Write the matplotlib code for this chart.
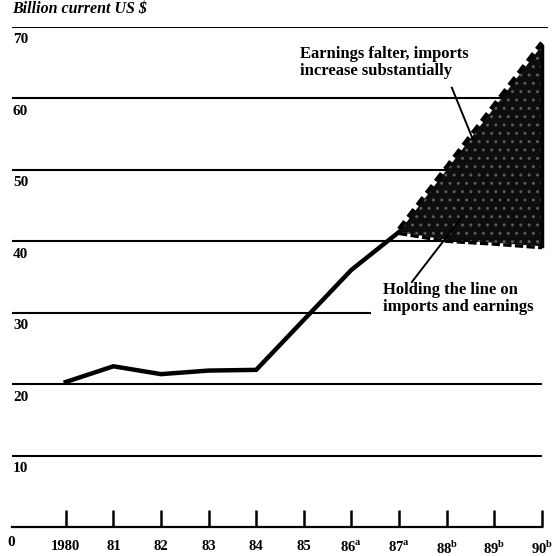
import numpy as np
import matplotlib
matplotlib.use("Agg")
import matplotlib.pyplot as plt

# Dane
years = np.array([1980, 1981, 1982, 1983, 1984, 1985, 1986, 1987])
values = np.array([20.3, 22.5, 21.4, 21.9, 22.0, 29.0, 36.0, 41.3])

fan_years = np.array([1987, 1988, 1989, 1990])
fan_upper = np.array([41.3, 50.0, 58.7, 67.4])
fan_lower = np.array([41.3, 40.2, 39.8, 39.3])

tick_years = np.arange(1980, 1991)
tick_labels = ['1980', '81', '82', '83', '84', '85',
               r'86$^{\mathbf{a}}$', r'87$^{\mathbf{a}}$',
               r'88$^{\mathbf{b}}$', r'89$^{\mathbf{b}}$', r'90$^{\mathbf{b}}$']
grid_levels = [10, 20, 30, 40, 50, 60, 70]

plt.rcParams['font.family'] = ['Liberation Serif', 'DejaVu Serif']
plt.rcParams['mathtext.fontset'] = 'custom'
plt.rcParams['mathtext.rm'] = 'Liberation Serif'
plt.rcParams['mathtext.bf'] = 'Liberation Serif:bold'

fig = plt.figure(figsize=(5.6, 5.56), dpi=100)
ax = fig.add_axes([12 / 560, 29 / 556, 536 / 560, 500 / 556])

x0, x1 = 1978.87, 1990.13
ax.set_xlim(x0, x1)
ax.set_ylim(0, 70)

for s in ['left', 'right', 'top']:
    ax.spines[s].set_visible(False)
ax.spines['bottom'].set_linewidth(1.6)
ax.spines['bottom'].set_bounds(x0, 1990.0)

# Linie poziome
ends = {30: 1986.42, 70: x1}
for lv in grid_levels:
    ax.plot([x0, ends.get(lv, 1990.0)], [lv, lv], color='black', lw=1.5, zorder=1,
            solid_capstyle='butt')
    ax.text(x0 + 0.02, lv - 0.9, str(lv), ha='left', va='top',
            fontsize=11, fontweight='bold')
ax.text(-0.008, -0.018, '0', transform=ax.transAxes, ha='left', va='top',
        fontsize=11, fontweight='bold')

# Seria historyczna
ax.plot(years, values, color='black', lw=3.2, zorder=3, solid_joinstyle='miter')

# Wachlarz prognozy
ax.fill_between(fan_years, fan_lower, fan_upper, facecolor='#0d0d0d',
                edgecolor='#5a5a5a', hatch='..', linewidth=0, zorder=2)
ax.plot(fan_years, fan_upper + 0.4, color='black', lw=3.2, dashes=(2.2, 1.2), zorder=3)
ax.plot(fan_years, fan_lower - 0.2, color='black', lw=2.4, dashes=(2.5, 1.0), zorder=3)
ax.plot([1990, 1990], [fan_lower[-1], fan_upper[-1]], color='black', lw=2.5, zorder=3)

# Osie
ax.set_xticks(tick_years)
ax.set_xticklabels(tick_labels, fontsize=10.5, fontweight='bold')
ax.tick_params(axis='x', direction='in', length=12, width=1.8, pad=9)
ax.set_yticks([])

ax.text(0.0, 1.02, 'Billion current US $', transform=ax.transAxes, ha='left',
        va='bottom', fontsize=11.5, fontweight='bold', style='italic')

# Adnotacje
ax.text(1984.92, 67.4, 'Earnings falter, imports\nincrease substantially',
        ha='left', va='top', fontsize=12, fontweight='bold', linespacing=1.1)
ax.plot([1988.11, 1988.55], [61.5, 54.3], color='black', lw=1.4, zorder=4)

ax.text(1986.66, 34.3, 'Holding the line on\nimports and earnings',
        ha='left', va='top', fontsize=12, fontweight='bold', linespacing=1.1)
ax.plot([1987.27, 1988.3], [34.3, 43.2], color='black', lw=1.4, zorder=4)

fig.savefig('out.png', dpi=100)
